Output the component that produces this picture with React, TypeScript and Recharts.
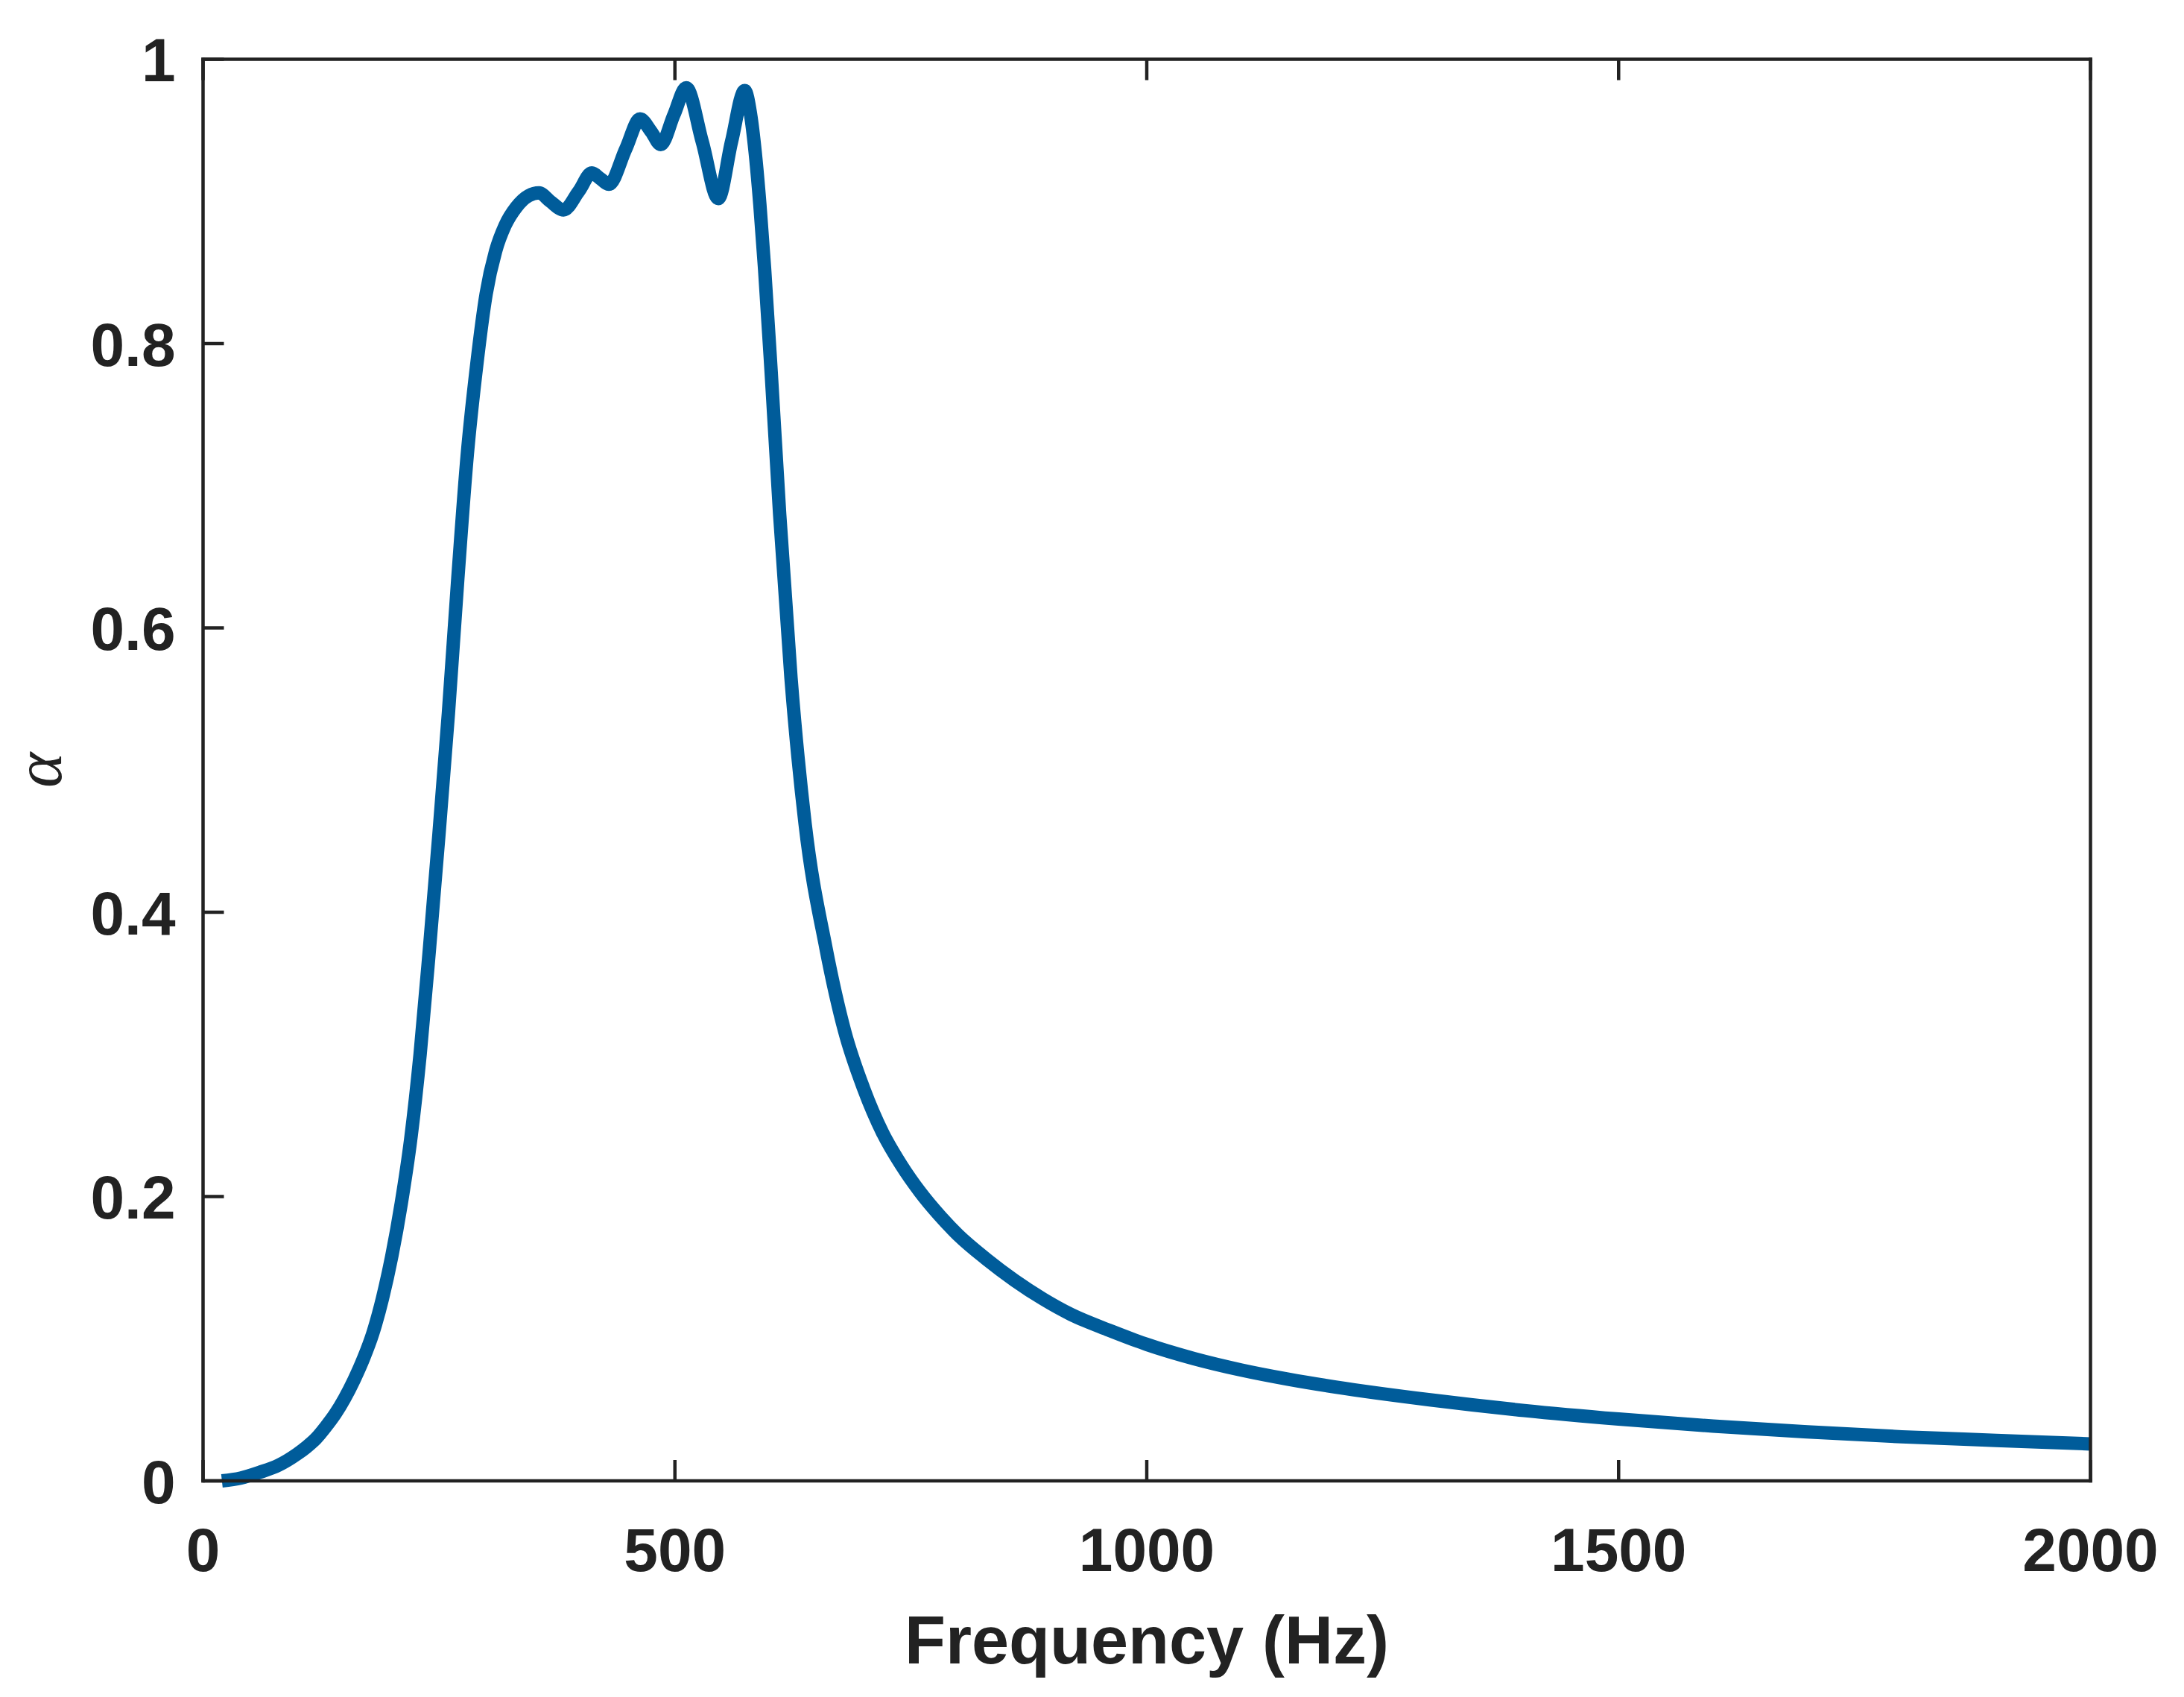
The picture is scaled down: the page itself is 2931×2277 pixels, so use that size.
import * as React from "react";
import { LineChart, Line, XAxis, YAxis } from "recharts";

// frequency (Hz) and absorption coefficient
const freqHz = [
  20, 40, 60, 80, 100, 110, 120, 130, 140, 150, 160, 170, 180, 190, 200, 210,
  220, 230, 240, 250, 260, 270, 280, 290, 300, 310, 320, 332, 345, 356, 368,
  382, 398, 412, 421, 430, 448, 463, 475, 485, 499, 512, 529, 546, 560, 574,
  580, 585, 590, 595, 602, 611, 623, 638, 660, 680, 700, 720, 740, 760, 780,
  800, 830, 860, 890, 920, 960, 1000, 1050, 1100, 1150, 1200, 1300, 1400,
  1500, 1600, 1700, 1800, 1900, 2000,
];
const alpha = [
  0.0, 0.002, 0.006, 0.011, 0.019, 0.024, 0.03, 0.038, 0.047, 0.058, 0.071,
  0.086, 0.104, 0.128, 0.158, 0.195, 0.24, 0.3, 0.375, 0.455, 0.54, 0.635,
  0.722, 0.785, 0.835, 0.865, 0.883, 0.896, 0.904, 0.906, 0.9, 0.894, 0.907,
  0.92, 0.916, 0.912, 0.937, 0.958, 0.949, 0.94, 0.961, 0.98, 0.942, 0.902,
  0.942, 0.978, 0.962, 0.935, 0.898, 0.853, 0.78, 0.68, 0.565, 0.462, 0.375,
  0.316, 0.276, 0.245, 0.222, 0.203, 0.187, 0.173, 0.156, 0.141, 0.128,
  0.117, 0.106, 0.096, 0.086, 0.078, 0.0715, 0.066, 0.057, 0.0495, 0.0435,
  0.0385, 0.0345, 0.031, 0.0285, 0.026,
];

const xTicks = [0, 500, 1000, 1500, 2000];
const yTicks = [0, 0.2, 0.4, 0.6, 0.8, 1];

const data = freqHz.map((f, i) => ({ f, a: alpha[i] }));

const INK = "#222222";
const BLUE = "#005c9a";
const FONT = "'Liberation Sans', Arial, sans-serif";
const TICK_LEN = 28;
const AXIS_W = 4.5;

const fmtY = (v: number) => (v === 0 ? "0" : v === 1 ? "1" : String(v));

function BottomTick(props: any) {
  const { x, y, payload } = props;
  const axisY = y - 63;
  return (
    <g>
      <line x1={x} x2={x} y1={axisY} y2={axisY - TICK_LEN} stroke={INK} strokeWidth={AXIS_W} />
      <text x={x} y={y} dy="0.71em" textAnchor="middle" fill={INK} fontSize={82} fontWeight="bold" fontFamily={FONT}>
        {payload.value}
      </text>
    </g>
  );
}

function LeftTick(props: any) {
  const { x, y, payload } = props;
  const axisX = x + 37;
  return (
    <g>
      <line x1={axisX} x2={axisX + TICK_LEN} y1={y} y2={y} stroke={INK} strokeWidth={AXIS_W} />
      <text x={x} y={y} dy="0.36em" textAnchor="end" fill={INK} fontSize={82} fontWeight="bold" fontFamily={FONT}>
        {fmtY(payload.value)}
      </text>
    </g>
  );
}

function TopTick(props: any) {
  const { x, y } = props;
  return <line x1={x} x2={x} y1={y} y2={y + TICK_LEN} stroke={INK} strokeWidth={AXIS_W} />;
}

function RightTick(props: any) {
  const { x, y } = props;
  return <line x1={x} x2={x - TICK_LEN} y1={y} y2={y} stroke={INK} strokeWidth={AXIS_W} />;
}

const axisLine = { stroke: INK, strokeWidth: AXIS_W, strokeLinecap: "square" as const };

export default function App() {
  return (
    <div style={{ position: "absolute", left: 0, top: 0, width: 2931, height: 2277, background: "#fff" }}>
      <LineChart width={2931} height={2277} data={data} margin={{ top: 0, right: 0, left: 0, bottom: 0 }}>
        <XAxis
          dataKey="f"
          type="number"
          domain={[0, 2000]}
          ticks={xTicks}
          interval={0}
          height={290}
          tickSize={0}
          tickMargin={63}
          tickLine={false}
          axisLine={axisLine}
          tick={BottomTick}
          label={{
            value: "Frequency (Hz)",
            position: "insideBottom",
            offset: 45,
            fill: INK,
            fontSize: 90,
            fontWeight: "bold",
            fontFamily: FONT,
          }}
        />
        <XAxis
          xAxisId="top"
          orientation="top"
          dataKey="f"
          type="number"
          domain={[0, 2000]}
          ticks={xTicks}
          interval={0}
          height={79.5}
          tickSize={0}
          tickMargin={0}
          tickLine={false}
          axisLine={axisLine}
          tick={TopTick}
        />
        <YAxis
          type="number"
          domain={[0, 1]}
          ticks={yTicks}
          interval={0}
          width={272.5}
          tickSize={0}
          tickMargin={37}
          tickLine={false}
          axisLine={axisLine}
          tick={LeftTick}
          label={{
            value: "α",
            content: (p: any) => {
              const vb = p.viewBox;
              const cx = vb.x + 82;
              const cy = vb.y + vb.height / 2;
              return (
                <text
                  x={cx}
                  y={cy}
                  textAnchor="middle"
                  transform={`rotate(-90, ${cx}, ${cy})`}
                  fill={INK}
                  fontSize={90}
                  fontStyle="italic"
                  fontFamily="'Liberation Serif', 'Times New Roman', serif"
                >
                  α
                </text>
              );
            },
          }}
        />
        <YAxis
          yAxisId="right"
          orientation="right"
          type="number"
          domain={[0, 1]}
          ticks={yTicks}
          interval={0}
          width={125.5}
          tickSize={0}
          tickMargin={0}
          tickLine={false}
          axisLine={axisLine}
          tick={RightTick}
        />
        <Line
          dataKey="a"
          type="monotone"
          stroke={BLUE}
          strokeWidth={18}
          dot={false}
          activeDot={false}
          isAnimationActive={false}
        />
      </LineChart>
    </div>
  );
}
